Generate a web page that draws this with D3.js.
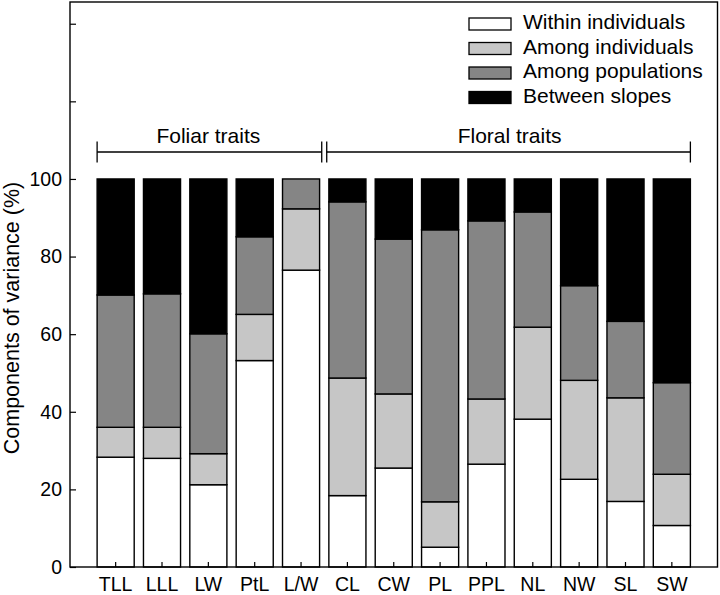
<!DOCTYPE html>
<html>
<head>
<meta charset="utf-8">
<script src="https://cdn.jsdelivr.net/npm/d3@7"></script>
<style>
	body { margin: 0; background: #fff; }
	text { font-family: "Liberation Sans", Arial, Helvetica, sans-serif; fill: #000; }
</style>
</head>
<body>
<svg id="chart" width="720" height="595"></svg>
<script>
// traits along the x axis
var traits = ["TLL", "LLL", "LW", "PtL", "L/W", "CL", "CW", "PL", "PPL", "NL", "NW", "SL", "SW"];

// components of variance (%), stacked from the bottom
var withinInd = [28.3, 28.0, 21.2, 53.2, 76.5, 18.4, 25.5, 5.1, 26.5, 38.1, 22.6, 16.9, 10.7];
var amongInd = [7.7, 8.0, 8.0, 11.9, 15.8, 30.3, 19.1, 11.7, 16.8, 23.7, 25.5, 26.7, 13.2];
var amongPop = [34.1, 34.4, 30.9, 20.0, 7.7, 45.4, 39.9, 70.1, 45.9, 29.7, 24.4, 19.7, 23.6];
var betweenSlopes = [29.9, 29.6, 39.9, 14.9, 0, 5.9, 15.5, 13.1, 10.8, 8.5, 27.5, 36.7, 52.5];

var seriesNames = ["Within individuals", "Among individuals", "Among populations", "Between slopes"];
var seriesColors = ["#ffffff", "#c6c6c6", "#858585", "#000000"];

var yTicks = [0, 20, 40, 60, 80, 100, 120, 140];

// trait groups shown with brackets above the bars
var groups = [
	{ name: "Foliar traits", first: "TLL", last: "L/W" },
	{ name: "Floral traits", first: "CL", last: "SW" }
];

var svg = d3.select("#chart");
var plotLeft = 70, plotRight = 717.5, plotTop = 2, plotBottom = 567;

var table = traits.map(function (t, i) {
	return {
		trait: t,
		"Within individuals": withinInd[i],
		"Among individuals": amongInd[i],
		"Among populations": amongPop[i],
		"Between slopes": betweenSlopes[i]
	};
});

var x = d3.scaleBand()
	.domain(traits)
	.range([plotLeft, plotRight])
	.paddingInner(0.2)
	.paddingOuter(0.585);

var y = d3.scaleLinear()
	.domain([0, 145.6])
	.range([plotBottom, plotTop]);

var color = d3.scaleOrdinal().domain(seriesNames).range(seriesColors);

var layers = d3.stack().keys(seriesNames)(table);

// bars
svg.append("g")
	.selectAll("g")
	.data(layers)
	.enter().append("g")
	.attr("fill", function (d) { return color(d.key); })
	.selectAll("rect")
	.data(function (d) { return d.filter(function (s) { return s[1] - s[0] > 0; }); })
	.enter().append("rect")
	.attr("x", function (d) { return x(d.data.trait); })
	.attr("y", function (d) { return y(d[1]); })
	.attr("width", x.bandwidth())
	.attr("height", function (d) { return y(d[0]) - y(d[1]); })
	.attr("stroke", "#000")
	.attr("stroke-width", 1.4);

// frame
svg.append("rect")
	.attr("x", plotLeft)
	.attr("y", plotTop)
	.attr("width", plotRight - plotLeft)
	.attr("height", plotBottom - plotTop)
	.attr("fill", "none")
	.attr("stroke", "#000")
	.attr("stroke-width", 1.4);

// y axis, ticks pointing inward
var yAxis = svg.append("g")
	.attr("transform", "translate(" + plotLeft + ",0)")
	.call(d3.axisRight(y)
		.tickValues(yTicks)
		.tickSize(6)
		.tickFormat(function (d) { return d <= 100 ? d : ""; }));
yAxis.select(".domain").remove();
yAxis.selectAll("line").attr("stroke", "#000").attr("stroke-width", 1.2);
yAxis.selectAll("text")
	.attr("x", -8)
	.attr("text-anchor", "end")
	.style("font-size", "19.5px")
	.style("font-family", "'Liberation Sans', Arial, sans-serif");

// x axis, ticks pointing up
var xAxis = svg.append("g")
	.attr("transform", "translate(0," + plotBottom + ")")
	.call(d3.axisTop(x).tickSize(5).tickSizeOuter(0));
xAxis.select(".domain").remove();
xAxis.selectAll("line").attr("stroke", "#000").attr("stroke-width", 1.2);
xAxis.selectAll("text")
	.attr("y", 24)
	.attr("dy", 0)
	.style("font-size", "19.5px")
	.style("font-family", "'Liberation Sans', Arial, sans-serif");

svg.append("text")
	.attr("transform", "translate(19,318) rotate(-90)")
	.attr("text-anchor", "middle")
	.style("font-size", "21.5px")
	.text("Components of variance (%)");

// group brackets
var lineY = 152, tickH = 10.5;
var br = svg.append("g").attr("stroke", "#000").attr("stroke-width", 1.3);
groups.forEach(function (g, i) {
	var x0 = x(g.first), x1 = x(g.last) + x.bandwidth();
	var gap = (x.step() - x.bandwidth()) / 2;
	if (i > 0) x0 = x0 - gap + 2.5;
	if (i < groups.length - 1) x1 = x1 + gap - 2.5;
	br.append("line").attr("x1", x0).attr("x2", x1).attr("y1", lineY).attr("y2", lineY);
	br.append("line").attr("x1", x0).attr("x2", x0).attr("y1", lineY - tickH).attr("y2", lineY + tickH);
	br.append("line").attr("x1", x1).attr("x2", x1).attr("y1", lineY - tickH).attr("y2", lineY + tickH);
	svg.append("text")
		.attr("x", (x(g.first) + x(g.last) + x.bandwidth()) / 2)
		.attr("y", 143)
		.attr("text-anchor", "middle")
		.style("font-size", "21px")
		.text(g.name);
});

// legend
var legend = svg.append("g")
	.selectAll("g")
	.data(seriesNames)
	.enter().append("g")
	.attr("transform", function (d, i) { return "translate(469," + (18 + i * 24.5) + ")"; });

legend.append("rect")
	.attr("width", 42)
	.attr("height", 12)
	.attr("fill", function (d) { return color(d); })
	.attr("stroke", "#000")
	.attr("stroke-width", 1.3);

legend.append("text")
	.attr("x", 54)
	.attr("y", 11)
	.style("font-size", "21px")
	.text(function (d) { return d; });
</script>
</body>
</html>
